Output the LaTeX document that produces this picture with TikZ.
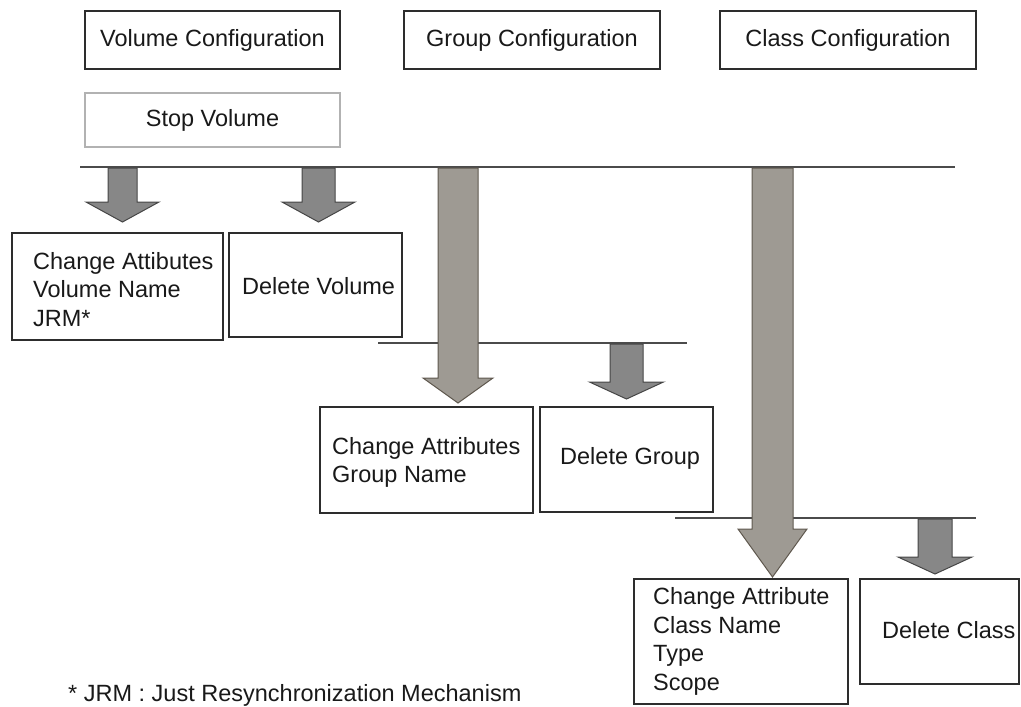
\documentclass[tikz,border=0pt]{standalone}
\usepackage{fontspec}
\setmainfont{Liberation Sans}
\usetikzlibrary{calc}
\definecolor{boxline}{RGB}{45,45,45}
\definecolor{txt}{RGB}{25,25,25}
\definecolor{barline}{RGB}{75,75,75}
\definecolor{sfill}{RGB}{135,135,135}
\definecolor{sline}{RGB}{70,70,70}
\definecolor{lfill}{RGB}{158,154,147}
\definecolor{lline}{RGB}{95,88,78}
\definecolor{stopline}{RGB}{178,178,178}
% #1 style, #2 start, #3 tip, #4 shaft half width, #5 head half width, #6 head length
\newcommand\blockarrow[6]{%
  \path[#1] let \p1=(#2), \p2=(#3) in
    (\x1-#4pt,\y1) -- (\x1+#4pt,\y1) -- (\x1+#4pt,\y2+#6pt) -- (\x1+#5pt,\y2+#6pt)
    -- (\x1,\y2) -- (\x1-#5pt,\y2+#6pt) -- (\x1-#4pt,\y2+#6pt) -- cycle;}
\begin{document}
\begin{tikzpicture}[x=1pt,y=-1pt,
  font=\fontsize{23.5}{28.5}\selectfont, text=txt,
  box/.style={draw=boxline,line width=1.4pt,fill=white,inner sep=0pt},
  stopbox/.style={draw=stopline,line width=1.2pt,fill=white,inner sep=0pt},
  lbl/.style={inner sep=0pt,align=left,anchor=west},
  bar/.style={draw=barline,line width=2.6pt},
  sarrow/.style={fill=sfill,draw=sline,line width=1pt},
  larrow/.style={fill=lfill,draw=lline,line width=1pt}]
\path[use as bounding box] (0,0) rectangle (1021,707);

% top boxes
\node[box,minimum width=255,minimum height=58] (vc) at (212.5,40) {Volume Configuration};
\node[box,minimum width=256,minimum height=58] (gc) at (532,40) {Group Configuration};
\node[box,minimum width=256,minimum height=58] (cc) at (848,40) {Class Configuration};
\node[stopbox,minimum width=255,minimum height=54] (sv) at (212.5,120) {Stop Volume};

% bars
\coordinate (b1l) at (80,167);  \coordinate (b1r) at (955,167);
\coordinate (b2l) at (378,343); \coordinate (b2r) at (687,343);
\coordinate (b3l) at (675,518); \coordinate (b3r) at (976,518);
\draw[bar] (b1l) -- (b1r);
\draw[bar] (b2l) -- (b2r);
\draw[bar] (b3l) -- (b3r);

% arrow anchors
\coordinate (a1s) at (122.5,168); \coordinate (a1t) at (122.5,222);
\coordinate (a2s) at (318.5,168); \coordinate (a2t) at (318.5,222);
\coordinate (a3s) at (458,168);   \coordinate (a3t) at (458,403);
\coordinate (a4s) at (626.5,344); \coordinate (a4t) at (626.5,399);
\coordinate (a5s) at (772.5,168); \coordinate (a5t) at (772.5,577);
\coordinate (a6s) at (935,519);   \coordinate (a6t) at (935,574);

\blockarrow{sarrow}{a1s}{a1t}{14.5}{36.5}{20}
\blockarrow{sarrow}{a2s}{a2t}{16.5}{36.5}{20}
\blockarrow{larrow}{a3s}{a3t}{20}{35}{25}
\blockarrow{sarrow}{a4s}{a4t}{16.5}{37}{17}
\blockarrow{larrow}{a5s}{a5t}{20.5}{34.5}{48}
\blockarrow{sarrow}{a6s}{a6t}{17}{37}{17}

% volume level boxes
\node[box,minimum width=211,minimum height=107] (cav) at (117.5,286.5) {};
\node[lbl] (cavt) at (33,289.5) {Change Attibutes\\Volume Name\\JRM*};
\node[box,minimum width=173,minimum height=104] (dv) at (315.5,285) {};
\node[lbl] (dvt) at (242,286) {Delete Volume};

% group level boxes
\node[box,minimum width=213,minimum height=106] (cag) at (426.5,460) {};
\node[lbl] (cagt) at (332,462.5) {Change Attributes\\Group Name};
\node[box,minimum width=173,minimum height=105] (dg) at (626.5,459.5) {};
\node[lbl] (dgt) at (560,458) {Delete Group};

% class level boxes
\node[box,minimum width=214,minimum height=125] (cac) at (741,641.5) {};
\node[lbl] (cact) at (653,641.5) {Change Attribute\\Class Name\\Type\\Scope};
\node[box,minimum width=159,minimum height=105] (dc) at (939.5,631.5) {};
\node[lbl] (dct) at (882,630) {Delete Class};

% footnote
\node[lbl] (fn) at (68,695) {* JRM : Just Resynchronization Mechanism};
\end{tikzpicture}
\end{document}
